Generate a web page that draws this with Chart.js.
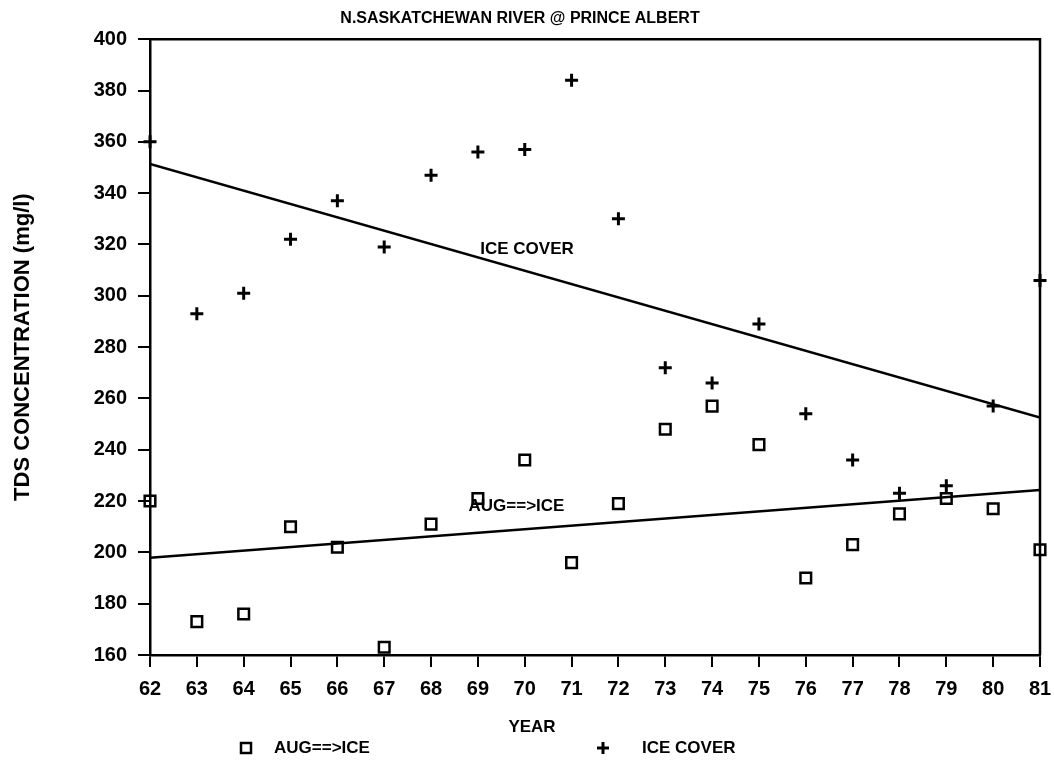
<!DOCTYPE html>
<html>
<head>
<meta charset="utf-8">
<script src="https://cdn.jsdelivr.net/npm/chart.js@4.4.1/dist/chart.umd.min.js"></script>
<style>
  html, body { margin: 0; padding: 0; background: #fff; }
  #wrap { width: 1054px; height: 768px; }
</style>
</head>
<body>
<div id="wrap"><canvas id="tds"></canvas></div>
<script>
// sampling years (19xx)
const years = [62, 63, 64, 65, 66, 67, 68, 69, 70, 71, 72, 73, 74, 75, 76, 77, 78, 79, 80, 81];
// TDS, mg/l
const augToIce = [220, 173, 176, 210, 202, 163, 211, 221, 236, 196, 219, 248, 257, 242, 190, 203, 215, 221, 217, 201];
const iceCover = [360, 293, 301, 322, 337, 319, 347, 356, 357, 384, 330, 272, 266, 289, 254, 236, 223, 226, 257, 306];
// fitted trend lines, values at first and last year
const trendYears = [62, 81];
const augTrend = [197.9, 224.3];
const iceTrend = [351.4, 252.5];
// y axis range
const yMin = 160, yMax = 400, yStep = 20;

const pts = (xs, ys) => xs.map((v, i) => ({ x: v, y: ys[i] }));
const BOLD = 'bold';
const FAM = '"Liberation Sans", Arial, sans-serif';

// frame, curve labels, axis caption and key
const extras = {
  id: 'extras',
  beforeDatasetsDraw(chart) {
    const { ctx, chartArea: a } = chart;
    ctx.save();
    ctx.strokeStyle = '#000';
    ctx.lineWidth = 2.5;
    ctx.beginPath();
    ctx.moveTo(a.left, a.top);
    ctx.lineTo(a.right, a.top);
    ctx.lineTo(a.right, a.bottom);
    ctx.stroke();
    ctx.restore();
  },
  afterDraw(chart) {
    const { ctx, scales: { x, y } } = chart;
    ctx.save();
    ctx.fillStyle = '#000';
    ctx.strokeStyle = '#000';
    ctx.font = `${BOLD} 17px ${FAM}`;
    ctx.textBaseline = 'middle';
    ctx.textAlign = 'left';
    ctx.fillText('ICE COVER', x.getPixelForValue(69.05), y.getPixelForValue(318));
    ctx.fillText('AUG==>ICE', x.getPixelForValue(68.8), y.getPixelForValue(218));

    ctx.textAlign = 'center';
    ctx.fillText('YEAR', 532, 727);

    // key
    const ky = 748;
    ctx.lineWidth = 2.5;
    ctx.strokeRect(241, ky - 5, 10, 10);
    ctx.lineWidth = 3;
    ctx.beginPath();
    ctx.moveTo(597, ky); ctx.lineTo(609, ky);
    ctx.moveTo(603, ky - 6); ctx.lineTo(603, ky + 6);
    ctx.stroke();
    ctx.textAlign = 'left';
    ctx.fillText('AUG==>ICE', 274, ky);
    ctx.fillText('ICE COVER', 642, ky);
    ctx.restore();
  }
};

new Chart(document.getElementById('tds'), {
  type: 'scatter',
  data: {
    datasets: [
      {
        label: 'AUG==>ICE',
        data: pts(years, augToIce),
        pointStyle: 'rect',
        pointRadius: 7.5,
        pointBorderWidth: 2.5,
        borderColor: '#000',
        backgroundColor: 'rgba(0,0,0,0)',
        clip: false
      },
      {
        label: 'ICE COVER',
        data: pts(years, iceCover),
        pointStyle: 'cross',
        pointRadius: 6.5,
        pointBorderWidth: 3,
        borderColor: '#000',
        backgroundColor: '#000',
        clip: false
      },
      {
        type: 'line',
        label: 'AUG trend',
        data: pts(trendYears, augTrend),
        borderColor: '#000',
        borderWidth: 2.5,
        pointRadius: 0,
        fill: false
      },
      {
        type: 'line',
        label: 'ICE trend',
        data: pts(trendYears, iceTrend),
        borderColor: '#000',
        borderWidth: 2.5,
        pointRadius: 0,
        fill: false
      }
    ]
  },
  options: {
    responsive: true,
    maintainAspectRatio: false,
    animation: false,
    layout: { padding: { left: 0, right: 14, top: 0, bottom: 0 } },
    plugins: {
      legend: { display: false },
      tooltip: { enabled: false },
      title: {
        display: true,
        text: 'N.SASKATCHEWAN RIVER @ PRINCE ALBERT',
        color: '#000',
        font: { family: FAM, size: 16, weight: BOLD },
        padding: { top: 9, bottom: 11 }
      }
    },
    scales: {
      x: {
        type: 'linear',
        min: years[0],
        max: years[years.length - 1],
        afterFit: s => { s.height = 113; s.paddingLeft = 0; s.paddingRight = 0; },
        ticks: {
          stepSize: 1,
          color: '#000',
          padding: 10,
          font: { family: FAM, size: 20, weight: BOLD }
        },
        grid: { drawOnChartArea: false, drawTicks: true, tickLength: 12, color: '#000', lineWidth: 2 },
        border: { color: '#000', width: 2.5 }
      },
      y: {
        min: yMin,
        max: yMax,
        afterFit: s => { s.width = 150; },
        ticks: {
          stepSize: yStep,
          color: '#000',
          padding: 11,
          font: { family: FAM, size: 20, weight: BOLD }
        },
        grid: { drawOnChartArea: false, drawTicks: true, tickLength: 12, color: '#000', lineWidth: 2 },
        border: { color: '#000', width: 2.5 },
        title: {
          display: true,
          text: 'TDS CONCENTRATION (mg/l)',
          color: '#000',
          font: { family: FAM, size: 22, weight: BOLD },
          padding: { top: 10, bottom: 0 }
        }
      }
    }
  },
  plugins: [extras]
});
</script>
</body>
</html>
